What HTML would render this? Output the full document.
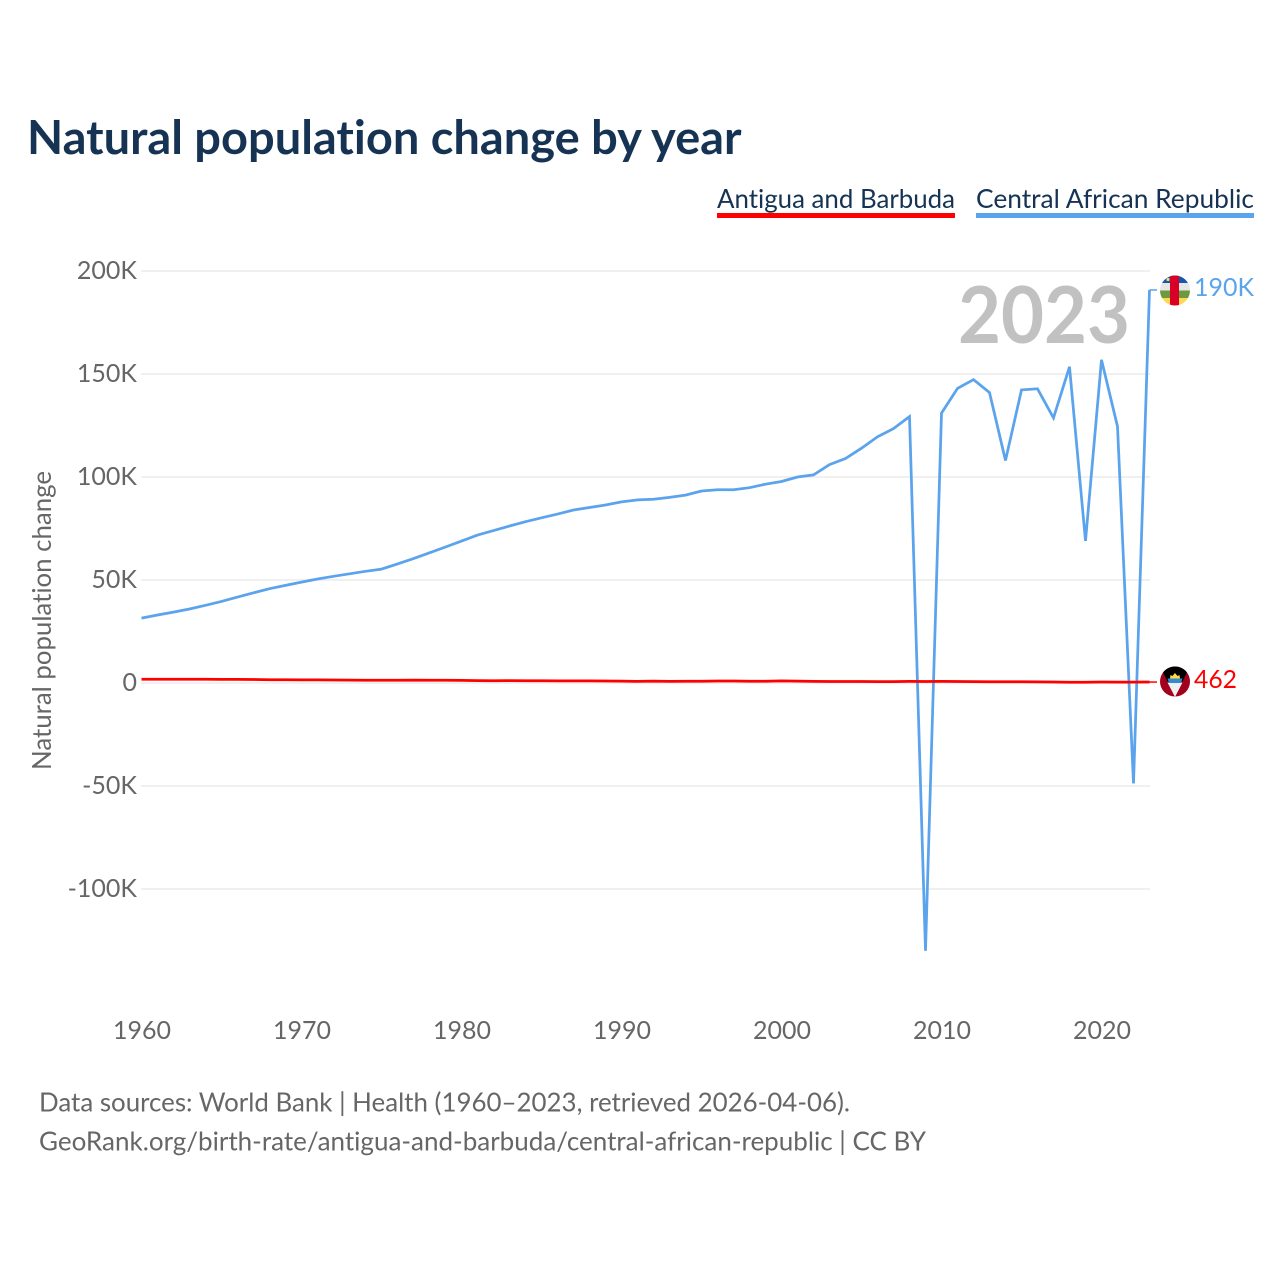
<!DOCTYPE html>
<html lang="en">
<head>
<meta charset="utf-8">
<title>Natural population change by year</title>
<style>
html,body{margin:0;padding:0;background:#fff;}
#chart{display:block;width:1280px;height:1280px;}
text{font-family:"Lato","Carlito","Liberation Sans",sans-serif;font-variant-ligatures:none;}
</style>
</head>
<body>
<svg id="chart" xmlns="http://www.w3.org/2000/svg" width="1280" height="1280" viewBox="0 0 1280 1280">
  <defs>
    <clipPath id="clip-caf"><circle cx="1175" cy="290.500" r="15"/></clipPath>
    <clipPath id="clip-atg"><circle cx="1175" cy="681.500" r="15"/></clipPath>
  </defs>
  <rect width="1280" height="1280" fill="#fff"/>
  <text id="chart-title" x="27" y="154" font-size="47" font-weight="700" fill="#163354">Natural population change by year</text>

  <g>
    <text x="717" y="208" font-size="26" fill="#163354" textLength="238" lengthAdjust="spacingAndGlyphs">Antigua and Barbuda</text>
    <rect x="717" y="213" width="238" height="5" fill="#ff0000"/>
  </g>
  <g>
    <text x="976" y="208" font-size="26" fill="#163354" textLength="278" lengthAdjust="spacingAndGlyphs">Central African Republic</text>
    <rect x="976" y="213" width="278" height="5" fill="#5ba3ec"/>
  </g>

  <g id="grid"></g>
  <g id="y-ticks"></g>
  <g id="x-ticks"></g>

  <text x="0" y="0" transform="translate(51,620.5) rotate(-90)" text-anchor="middle" font-size="26" fill="#666" textLength="299" lengthAdjust="spacingAndGlyphs">Natural population change</text>

  <text x="1130" y="343" text-anchor="end" font-size="79" font-weight="700" fill="#c1c1c1" textLength="172" lengthAdjust="spacingAndGlyphs">2023</text>

  <g id="series"></g>

  <g id="flag-caf" clip-path="url(#clip-caf)">
    <rect x="1160" y="275" width="30" height="8" fill="#1a56a8"/>
    <rect x="1160" y="283" width="30" height="7.500" fill="#e6e6e6"/>
    <rect x="1160" y="290.500" width="30" height="7.500" fill="#6c9a3c"/>
    <rect x="1160" y="298" width="30" height="8" fill="#fcd856"/>
    <rect x="1170" y="275" width="9" height="31" fill="#d80027"/>
    <circle cx="1168" cy="279.500" r="1.600" fill="#fcd856"/>
  </g>
  <g id="flag-atg" clip-path="url(#clip-atg)">
    <rect x="1160" y="666" width="30" height="31" fill="#a2001d"/>
    <polygon points="1160,666 1190,666 1175,697" fill="#000"/>
    <polygon points="1167.500,682.500 1182.500,682.500 1175,697" fill="#f0f0f0"/>
    <polygon points="1167.500,678.500 1182.500,678.500 1181,683 1169,683" fill="#338ad0"/>
    <polygon points="1170,678.500 1170.500,675 1172.500,676 1175,673 1177.500,676 1179.500,675 1180,678.500" fill="#ffda44"/>
  </g>

  <text x="1194" y="296" font-size="25" fill="#5ba3ec" textLength="60" lengthAdjust="spacingAndGlyphs">190K</text>
  <text x="1194" y="688" font-size="25" fill="#ff0000" textLength="43" lengthAdjust="spacingAndGlyphs">462</text>

  <text x="39" y="1111.500" font-size="26" fill="#666" textLength="811" lengthAdjust="spacingAndGlyphs">Data sources: World Bank | Health (1960–2023, retrieved 2026-04-06).</text>
  <text x="39" y="1150.500" font-size="26" fill="#666" textLength="887" lengthAdjust="spacingAndGlyphs">GeoRank.org/birth-rate/antigua-and-barbuda/central-african-republic | CC BY</text>
</svg>
<script>
var years = [1960,1961,1962,1963,1964,1965,1966,1967,1968,1969,1970,1971,1972,1973,1974,1975,1976,1977,1978,1979,1980,1981,1982,1983,1984,1985,1986,1987,1988,1989,1990,1991,1992,1993,1994,1995,1996,1997,1998,1999,2000,2001,2002,2003,2004,2005,2006,2007,2008,2009,2010,2011,2012,2013,2014,2015,2016,2017,2018,2019,2020,2021,2022,2023];
var carValues = [31500,33000,34400,35900,37700,39600,41700,43800,45800,47400,49000,50500,51800,53000,54200,55300,57800,60400,63200,66000,68900,71800,74000,76200,78300,80200,82000,84000,85200,86400,87900,88900,89200,90100,91200,93200,93800,93800,94800,96500,97800,100000,101000,106000,109000,114000,119500,123500,129300,-130000,131000,143000,147300,141000,108000,142300,142800,128700,153500,69000,156900,124500,-48800,190800];
var atgValues = [1800,1800,1800,1800,1800,1750,1750,1700,1600,1550,1500,1500,1450,1400,1350,1300,1300,1400,1300,1350,1250,1150,1100,1150,1100,1100,1000,1000,1000,950,900,800,900,800,850,850,950,950,850,850,1000,900,800,750,750,750,700,700,800,750,800,750,700,600,650,600,550,500,350,400,500,450,450,462];
var yTickValues = [200000,150000,100000,50000,0,-50000,-100000];
var yTickLabels = ["200K","150K","100K","50K","0","-50K","-100K"];
var xTickValues = [1960,1970,1980,1990,2000,2010,2020];
var NS = "http://www.w3.org/2000/svg";
function xScale(year){ return 141.5 + (year - 1960) * 16; }
function yScale(value){ return 683 - value * 103 / 50000; }

var grid = document.getElementById("grid");
var yTicks = document.getElementById("y-ticks");
var xTicks = document.getElementById("x-ticks");
var series = document.getElementById("series");

yTickValues.forEach(function(v, i){
  var line = document.createElementNS(NS, "line");
  line.setAttribute("x1", 141);
  line.setAttribute("x2", 1150);
  line.setAttribute("y1", yScale(v));
  line.setAttribute("y2", yScale(v));
  line.setAttribute("stroke", "#ebebeb");
  line.setAttribute("stroke-width", "1.5");
  
  
  grid.appendChild(line);

  var t = document.createElementNS(NS, "text");
  t.setAttribute("x", 137);
  t.setAttribute("y", yScale(v) + 8);
  t.setAttribute("text-anchor", "end");
  t.setAttribute("font-size", "25");
  t.setAttribute("fill", "#666");
  
  
  t.textContent = yTickLabels[i];
  yTicks.appendChild(t);
});

xTickValues.forEach(function(y){
  var t = document.createElementNS(NS, "text");
  t.setAttribute("x", xScale(y) + 0.5);
  t.setAttribute("y", 1039);
  t.setAttribute("text-anchor", "middle");
  t.setAttribute("font-size", "25");
  t.setAttribute("fill", "#666");
  
  
  t.textContent = y;
  xTicks.appendChild(t);
});

function toPoints(values){
  return values.map(function(v, i){
    return xScale(years[i]).toFixed(1) + "," + yScale(v).toFixed(1);
  }).join(" ");
}

var carLine = document.createElementNS(NS, "polyline");
carLine.setAttribute("points", toPoints(carValues));
carLine.setAttribute("fill", "none");
carLine.setAttribute("stroke", "#5ba3ec");
carLine.setAttribute("stroke-width", "2.75");
carLine.setAttribute("stroke-linejoin", "miter");


series.appendChild(carLine);

var atgLine = document.createElementNS(NS, "polyline");
atgLine.setAttribute("points", toPoints(atgValues));
atgLine.setAttribute("fill", "none");
atgLine.setAttribute("stroke", "#ff0000");
atgLine.setAttribute("stroke-width", "2.75");


series.appendChild(atgLine);

var carLead = document.createElementNS(NS, "line");
carLead.setAttribute("x1", xScale(2023));
carLead.setAttribute("x2", 1157);
carLead.setAttribute("y1", yScale(carValues[carValues.length - 1]));
carLead.setAttribute("y2", yScale(carValues[carValues.length - 1]));
carLead.setAttribute("stroke", "#5ba3ec");
carLead.setAttribute("stroke-width", "1.5");


series.appendChild(carLead);

var atgLead = document.createElementNS(NS, "line");
atgLead.setAttribute("x1", xScale(2023));
atgLead.setAttribute("x2", 1157);
atgLead.setAttribute("y1", yScale(atgValues[atgValues.length - 1]));
atgLead.setAttribute("y2", yScale(atgValues[atgValues.length - 1]));
atgLead.setAttribute("stroke", "#ff0000");
atgLead.setAttribute("stroke-width", "1.5");


series.appendChild(atgLead);
</script>
</body>
</html>
